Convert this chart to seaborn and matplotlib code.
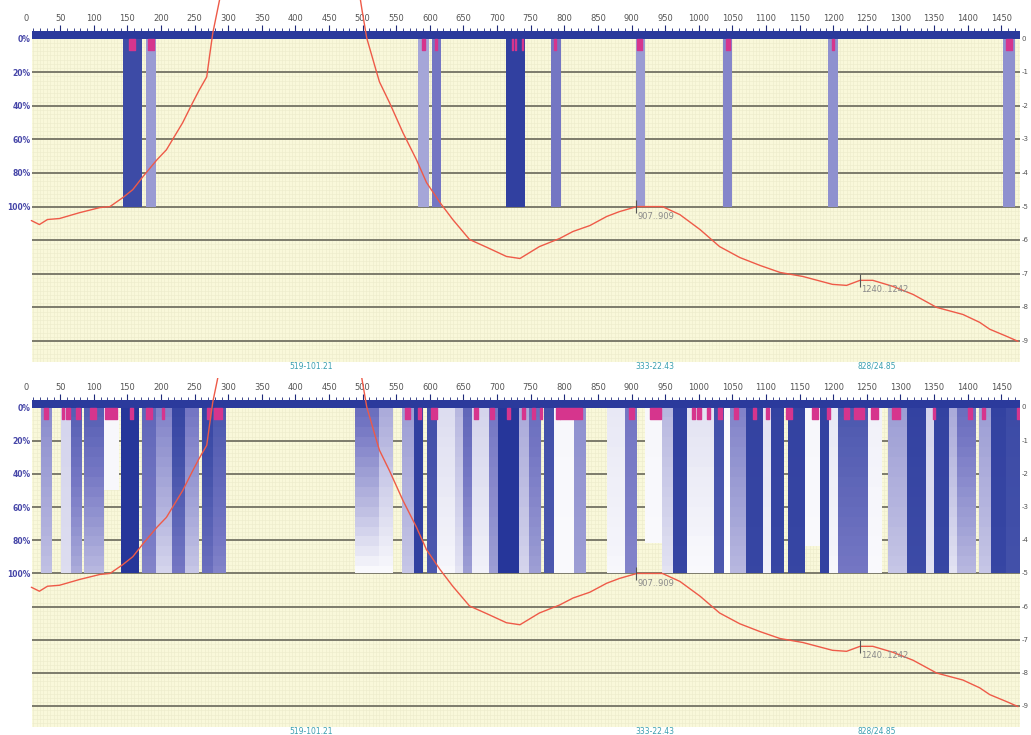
import numpy as np
import pandas as pd
import matplotlib
matplotlib.use("Agg")
import matplotlib.pyplot as plt
import matplotlib.transforms as mtransforms
from matplotlib.colors import LinearSegmentedColormap
import seaborn as sns

sns.set_theme(style="white")
plt.rcParams["font.family"] = ["DejaVu Sans"]

# ---- ruler / axis labels ----
x_ticks = list(range(50, 1451, 50))
pct_ticks = [0, 20, 40, 60, 80, 100]
pct_labels = ["0%", "20%", "40%", "60%", "80%", "100%"]
row_lines = [20, 40, 60, 80, 100, 120, 140, 160, 180]
right_vals = [0, 20, 40, 60, 80, 100, 120, 140, 160, 180]
right_labels = ["0", "-1", "-2", "-3", "-4", "-5", "-6", "-7", "-8", "-9"]

# ---- profile curve (same in both panels) ----
curve_pos = [7, 19, 31, 49, 79, 109, 124, 143, 158, 173, 194, 208, 217, 232, 247, 257,
             268, 272, 277, 284, 287, 295, 400, 490, 499, 506, 521, 525, 540, 560, 580,
             595, 615, 634, 659, 685, 714, 734, 763, 793, 813, 838, 863, 882, 908, 923,
             946, 972, 1002, 1031, 1061, 1091, 1121, 1155, 1199, 1220, 1240, 1259, 1289,
             1319, 1354, 1393, 1418, 1433, 1458, 1475]
curve_val = [108.3, 110.7, 107.7, 107.1, 103.6, 100.6, 100.0, 94.7, 89.9, 82.2, 72.1, 66.2,
             60.2, 50.2, 38.2, 30.5, 22.8, 10.9, -3.3, -17.0, -22.9, -45.0, -80.0, -40.0,
             -17.0, -0.4, 20.4, 25.8, 38.2, 56.1, 72.1, 85.7, 97.6, 107.7, 119.6, 124.3,
             129.7, 130.9, 123.8, 119.0, 114.8, 111.3, 105.9, 103.0, 100.0, 100.0, 100.0,
             104.8, 113.7, 123.8, 130.3, 135.0, 139.2, 141.6, 146.3, 146.9, 143.9, 143.9,
             147.5, 152.3, 160.0, 164.2, 168.9, 173.0, 177.2, 180.2]
ann_pos = [907, 1240]
ann_text = ["907..909", "1240..1242"]
min_pos = [423, 935, 1265]
min_text = ["519-101.21", "333-22.43", "828/24.85"]

# ---- top panel: conserved columns ----
top_start = [143, 177, 582, 603, 713, 780, 906, 1036, 1193, 1452]
top_end = [171, 193, 598, 616, 741, 795, 920, 1049, 1207, 1470]
top_level = [0.8, 0.36, 0.32, 0.5, 0.9, 0.5, 0.36, 0.44, 0.4, 0.4]
top_mark_start = [153, 180, 589, 607, 722, 726, 737, 784, 908, 1040, 1198, 1457]
top_mark_end = [161, 189, 593, 611, 724, 728, 739, 788, 915, 1046, 1202, 1466]

# ---- bottom panel: columns with vertical fade ----
bot_start = [22, 51, 66, 85, 115, 141, 171, 192, 217, 236, 261, 278, 488, 524, 559, 577,
             595, 611, 638, 650, 662, 688, 702, 732, 747, 770, 784, 814, 864, 891, 920,
             946, 962, 983, 1023, 1037, 1047, 1070, 1095, 1107, 1133, 1158, 1180, 1194,
             1207, 1252, 1282, 1310, 1338, 1350, 1372, 1384, 1417, 1435, 1457]
bot_end = [38, 66, 83, 115, 137, 167, 192, 217, 236, 256, 278, 296, 524, 545, 576, 590,
           610, 638, 650, 662, 688, 702, 732, 747, 765, 784, 814, 832, 891, 908, 946,
           962, 983, 1023, 1037, 1047, 1070, 1095, 1107, 1127, 1158, 1180, 1194, 1207,
           1252, 1272, 1310, 1338, 1350, 1372, 1384, 1412, 1435, 1457, 1480]
bot_top = [0.42, 0.15, 0.65, 0.65, 0.03, 1.0, 0.6, 0.45, 0.85, 0.5, 0.85, 0.7, 0.55, 0.3,
           0.35, 0.9, 0.75, 0.12, 0.25, 0.6, 0.15, 0.5, 1.0, 0.3, 0.55, 0.75, 0.03, 0.4,
           0.08, 0.5, 0.03, 0.25, 0.9, 0.1, 0.75, 0.02, 0.45, 0.88, 0.1, 0.88, 0.88, 0.03,
           0.88, 0.08, 0.7, 0.05, 0.35, 0.88, 0.15, 0.88, 0.3, 0.55, 0.35, 0.88, 0.8]
bot_bottom = [0.22, 0.12, 0.3, 0.25, 0.03, 1.0, 0.45, 0.15, 0.5, 0.2, 0.55, 0.45, 0.02, 0.02,
              0.2, 0.9, 0.7, 0.03, 0.1, 0.35, 0.05, 0.35, 1.0, 0.15, 0.35, 0.7, 0.02, 0.35,
              0.03, 0.45, 0.02, 0.1, 0.85, 0.02, 0.7, 0.01, 0.25, 0.85, 0.05, 0.85, 0.85, 0.02,
              0.88, 0.03, 0.5, 0.02, 0.2, 0.8, 0.1, 0.85, 0.1, 0.25, 0.2, 0.85, 0.75]
bot_depth = [100, 100, 100, 100, 50, 100, 100, 100, 100, 100, 100, 100, 100, 100, 100, 100,
             100, 100, 100, 100, 100, 100, 100, 100, 100, 100, 100, 100, 100, 100, 82,
             100, 100, 100, 100, 100, 100, 100, 100, 100, 100, 84, 100, 100,
             100, 100, 100, 100, 100, 100, 100, 100, 100, 100, 100]
bot_mark_start = [26, 53, 59, 74, 95, 116, 154, 178, 201, 269, 279, 563, 583, 601, 666, 690,
                  715, 737, 752, 764, 787, 794, 896, 928, 990, 998, 1013, 1029, 1053, 1080,
                  1100, 1130, 1169, 1191, 1216, 1231, 1256, 1288, 1348, 1400, 1422, 1474]
bot_mark_end = [32, 55, 65, 80, 103, 134, 158, 186, 204, 273, 291, 570, 587, 611, 672, 695,
                719, 742, 757, 767, 794, 827, 903, 944, 995, 1003, 1017, 1034, 1058, 1085,
                1105, 1139, 1177, 1196, 1224, 1246, 1266, 1300, 1351, 1407, 1426, 1479]

W = 1480
cmap = LinearSegmentedColormap.from_list(
    "cov", ["#ffffff", "#b8b8e0", "#7577c4", "#4351aa", "#26369a"])
cmap.set_bad((0, 0, 0, 0))
curve_df = pd.DataFrame({"pos": curve_pos, "val": curve_val})


def column_image(starts, ends, s_top, s_bot, depth):
    img = np.full((100, W), np.nan)
    for s, e, a, b, d in zip(starts, ends, s_top, s_bot, depth):
        for r in range(int(d)):
            step = np.floor(r / 6) / 16
            img[r, s:e] = a + (b - a) * step
    return img


def draw_panel(ax, img, m_start, m_end, clip_px):
    ax.set_facecolor("white")
    ax.axhspan(0.5, 193, color="#f9f8da", lw=0, zorder=0)
    ax.vlines(np.arange(10, W, 5), 0.5, 193, color="#ecebca", lw=0.4, zorder=0.5)
    ax.hlines(np.arange(2.5, 193, 2.5), 8, W, color="#ecebca", lw=0.4, zorder=0.5)
    ax.hlines(row_lines, 8, W, color="#7c7b6c", lw=1.4, zorder=1)
    ax.imshow(img, cmap=cmap, vmin=0, vmax=1, extent=(0, W, 100, 0), aspect="auto",
              interpolation="nearest", zorder=2)
    ax.axhspan(-4.5, 0.5, color="#2b3a9c", lw=0, zorder=3)
    ax.broken_barh([(s, e - s) for s, e in zip(m_start, m_end)], (0.5, 6.5),
                   color="#d6358d", zorder=3)

    sns.lineplot(data=curve_df, x="pos", y="val", ax=ax, color="#ee5a48", lw=1.0,
                 estimator=None, sort=False, zorder=4)
    line = ax.lines[-1]
    y0 = 1 - clip_px[1] / 735
    y1 = 1 - clip_px[0] / 735
    line.set_clip_box(mtransforms.TransformedBbox(
        mtransforms.Bbox.from_extents(0, y0, 1, y1), fig.transFigure))

    for p, t in zip(ann_pos, ann_text):
        v = np.interp(p, curve_pos, curve_val)
        ax.vlines(p, v - 4, v + 4, color="#555555", lw=0.8, zorder=5)
        ax.text(p + 2, v + 3, t, fontsize=6, color="#8a8a8a", va="top", ha="left", zorder=5)

    for p, t in zip(min_pos, min_text):
        ax.text(p, -0.013, t, transform=ax.get_xaxis_transform(), fontsize=5.5,
                color="#3a9fb0", ha="center", va="center")

    ax.set_xlim(8, 1478)
    ax.set_ylim(192.5, -4.5)
    ax.set_xlabel("")
    ax.set_ylabel("")
    ax.xaxis.tick_top()
    ax.set_xticks(x_ticks)
    ax.set_xticks(range(10, W, 10), minor=True)
    ax.tick_params(axis="x", which="major", direction="inout", length=9, width=0.8,
                   color="#1f2a7a", labelsize=6, labelcolor="#555555", pad=1.5,
                   top=True, bottom=False)
    ax.tick_params(axis="x", which="minor", direction="inout", length=4, width=0.6,
                   color="#1f2a7a", top=True, bottom=False)
    ax.set_yticks(pct_ticks, pct_labels)
    ax.tick_params(axis="y", length=0, labelsize=5.5, labelcolor="#4646a8", pad=1)
    for lab in ax.get_yticklabels():
        lab.set_fontweight("bold")
    ax.annotate("0", xy=(0, 1), xycoords=("data", "axes fraction"), xytext=(0, 6),
                textcoords="offset points", ha="center", va="bottom", fontsize=6,
                color="#555555", annotation_clip=False)
    trans = mtransforms.blended_transform_factory(ax.transAxes, ax.transData)
    for v, t in zip(right_vals, right_labels):
        ax.text(1.002, v, t, transform=trans, fontsize=5, color="#555555",
                va="center", ha="left", clip_on=False)
    for s in ax.spines.values():
        s.set_visible(False)


fig = plt.figure(figsize=(10.31, 7.35), dpi=100)
ax_top = fig.add_axes([32 / 1031, 1 - 362 / 735, 988 / 1031, 331 / 735])
ax_bot = fig.add_axes([32 / 1031, 1 - 727 / 735, 988 / 1031, 327 / 735])

top_img = column_image(top_start, top_end, top_level, top_level, [100] * len(top_start))
bot_img = column_image(bot_start, bot_end, bot_top, bot_bottom, bot_depth)

draw_panel(ax_top, top_img, top_mark_start, top_mark_end, (0, 362))
draw_panel(ax_bot, bot_img, bot_mark_start, bot_mark_end, (378, 727))

fig.savefig("out.png", dpi=100, facecolor="white")
